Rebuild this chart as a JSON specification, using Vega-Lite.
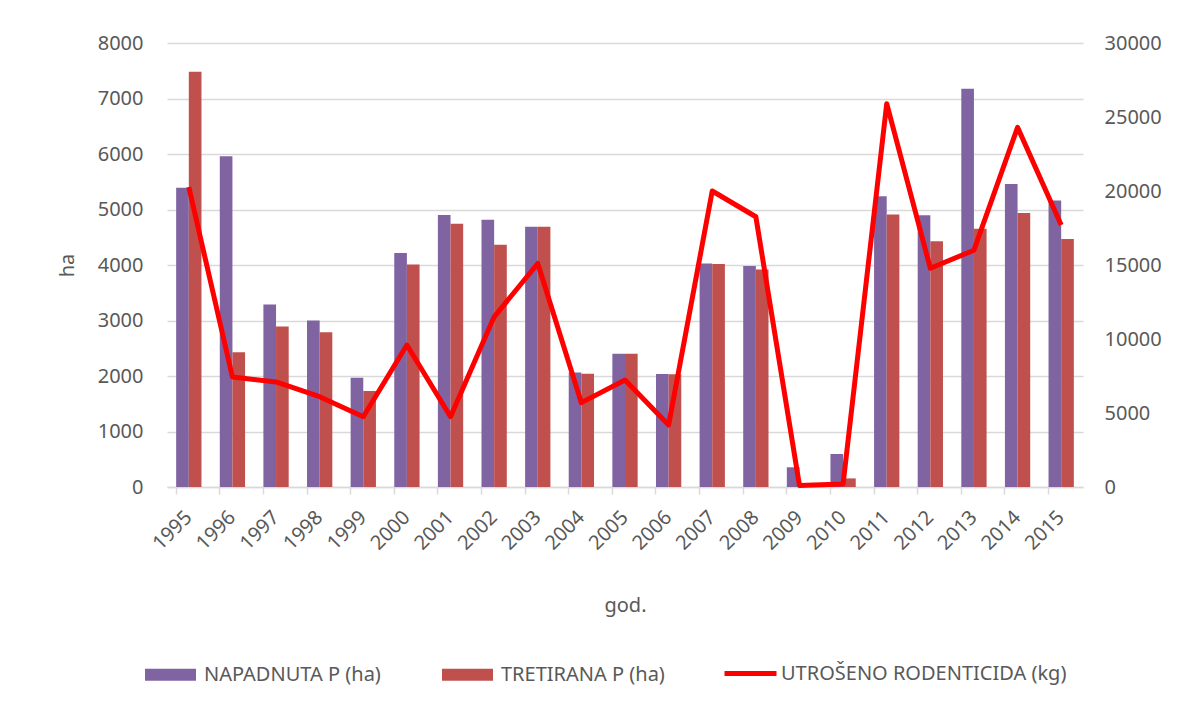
{
  "$schema": "https://vega.github.io/schema/vega-lite/v6.json",
  "width": 916,
  "height": 444,
  "autosize": {"type": "none"},
  "padding": {"left": 167, "top": 43, "right": 102, "bottom": 217},
  "background": "white",
  "config": {
    "font": "Noto Sans",
    "view": {"stroke": null},
    "axis": {
      "labelFont": "Noto Sans",
      "labelFontSize": 20,
      "labelColor": "#595959",
      "titleFont": "Noto Sans",
      "titleFontSize": 20,
      "titleColor": "#595959",
      "titleFontWeight": "normal",
      "gridColor": "#d9d9d9",
      "gridWidth": 1.5,
      "domainColor": "#d9d9d9",
      "tickColor": "#d9d9d9"
    },
    "legend": {
      "labelFont": "Noto Sans",
      "labelFontSize": 20,
      "labelColor": "#595959",
      "padding": 0,
      "labelLimit": 500
    }
  },
  "datasets": {
    "bars": [
      {"god": 1995, "serija": "NAPADNUTA P (ha)", "ha": 5390},
      {"god": 1995, "serija": "TRETIRANA P (ha)", "ha": 7480},
      {"god": 1996, "serija": "NAPADNUTA P (ha)", "ha": 5960},
      {"god": 1996, "serija": "TRETIRANA P (ha)", "ha": 2430},
      {"god": 1997, "serija": "NAPADNUTA P (ha)", "ha": 3290},
      {"god": 1997, "serija": "TRETIRANA P (ha)", "ha": 2890},
      {"god": 1998, "serija": "NAPADNUTA P (ha)", "ha": 3000},
      {"god": 1998, "serija": "TRETIRANA P (ha)", "ha": 2790},
      {"god": 1999, "serija": "NAPADNUTA P (ha)", "ha": 1970},
      {"god": 1999, "serija": "TRETIRANA P (ha)", "ha": 1730},
      {"god": 2000, "serija": "NAPADNUTA P (ha)", "ha": 4215},
      {"god": 2000, "serija": "TRETIRANA P (ha)", "ha": 4010},
      {"god": 2001, "serija": "NAPADNUTA P (ha)", "ha": 4900},
      {"god": 2001, "serija": "TRETIRANA P (ha)", "ha": 4745},
      {"god": 2002, "serija": "NAPADNUTA P (ha)", "ha": 4815},
      {"god": 2002, "serija": "TRETIRANA P (ha)", "ha": 4365},
      {"god": 2003, "serija": "NAPADNUTA P (ha)", "ha": 4690},
      {"god": 2003, "serija": "TRETIRANA P (ha)", "ha": 4690},
      {"god": 2004, "serija": "NAPADNUTA P (ha)", "ha": 2065},
      {"god": 2004, "serija": "TRETIRANA P (ha)", "ha": 2040},
      {"god": 2005, "serija": "NAPADNUTA P (ha)", "ha": 2400},
      {"god": 2005, "serija": "TRETIRANA P (ha)", "ha": 2400},
      {"god": 2006, "serija": "NAPADNUTA P (ha)", "ha": 2035},
      {"god": 2006, "serija": "TRETIRANA P (ha)", "ha": 2030},
      {"god": 2007, "serija": "NAPADNUTA P (ha)", "ha": 4025},
      {"god": 2007, "serija": "TRETIRANA P (ha)", "ha": 4020},
      {"god": 2008, "serija": "NAPADNUTA P (ha)", "ha": 3980},
      {"god": 2008, "serija": "TRETIRANA P (ha)", "ha": 3920},
      {"god": 2009, "serija": "NAPADNUTA P (ha)", "ha": 355},
      {"god": 2009, "serija": "TRETIRANA P (ha)", "ha": 0},
      {"god": 2010, "serija": "NAPADNUTA P (ha)", "ha": 595},
      {"god": 2010, "serija": "TRETIRANA P (ha)", "ha": 155},
      {"god": 2011, "serija": "NAPADNUTA P (ha)", "ha": 5240},
      {"god": 2011, "serija": "TRETIRANA P (ha)", "ha": 4910},
      {"god": 2012, "serija": "NAPADNUTA P (ha)", "ha": 4895},
      {"god": 2012, "serija": "TRETIRANA P (ha)", "ha": 4430},
      {"god": 2013, "serija": "NAPADNUTA P (ha)", "ha": 7175},
      {"god": 2013, "serija": "TRETIRANA P (ha)", "ha": 4655},
      {"god": 2014, "serija": "NAPADNUTA P (ha)", "ha": 5460},
      {"god": 2014, "serija": "TRETIRANA P (ha)", "ha": 4935},
      {"god": 2015, "serija": "NAPADNUTA P (ha)", "ha": 5160},
      {"god": 2015, "serija": "TRETIRANA P (ha)", "ha": 4470}
    ],
    "line": [
      {"god": 1995, "kg": 20270},
      {"god": 1996, "kg": 7430},
      {"god": 1997, "kg": 7100},
      {"god": 1998, "kg": 6100},
      {"god": 1999, "kg": 4750},
      {"god": 2000, "kg": 9590},
      {"god": 2001, "kg": 4750},
      {"god": 2002, "kg": 11500},
      {"god": 2003, "kg": 15100},
      {"god": 2004, "kg": 5700},
      {"god": 2005, "kg": 7230},
      {"god": 2006, "kg": 4190},
      {"god": 2007, "kg": 20000},
      {"god": 2008, "kg": 18260},
      {"god": 2009, "kg": 100},
      {"god": 2010, "kg": 200},
      {"god": 2011, "kg": 25900},
      {"god": 2012, "kg": 14780},
      {"god": 2013, "kg": 16000},
      {"god": 2014, "kg": 24300},
      {"god": 2015, "kg": 17700}
    ]
  },
  "encoding": {
    "x": {
      "field": "god",
      "type": "ordinal",
      "scale": {"paddingInner": 0.42, "paddingOuter": 0.21},
      "axis": {
        "title": "god.",
        "labelAngle": -45,
        "labelAlign": "right",
        "labelBaseline": "middle",
        "bandPosition": 0,
        "tickSize": 7,
        "tickWidth": 1.5,
        "domainWidth": 1.5,
        "grid": false,
        "labelPadding": 20,
        "titlePadding": 42
      }
    }
  },
  "layer": [
    {
      "data": {"name": "bars"},
      "mark": {"type": "bar"},
      "encoding": {
        "xOffset": {"field": "serija", "sort": ["NAPADNUTA P (ha)", "TRETIRANA P (ha)"]},
        "y": {
          "field": "ha",
          "type": "quantitative",
          "scale": {"domain": [0, 8000]},
          "axis": {
            "title": "ha",
            "format": "d",
            "values": [0, 1000, 2000, 3000, 4000, 5000, 6000, 7000, 8000],
            "domain": false,
            "ticks": false,
            "labelPadding": 24,
            "titlePadding": 20
          }
        },
        "fill": {
          "field": "serija",
          "type": "nominal",
          "scale": {"domain": ["NAPADNUTA P (ha)", "TRETIRANA P (ha)"], "range": ["#8064A2", "#C0504D"]},
          "legend": {
            "orient": "none",
            "legendX": -22,
            "legendY": 606,
            "direction": "horizontal",
            "title": null,
            "symbolType": "M-1,-0.235H1V0.235H-1Z",
            "symbolSize": 2601,
            "symbolStrokeWidth": 0,
            "labelOffset": 8,
            "columnPadding": 61
          }
        }
      }
    },
    {
      "data": {"name": "line"},
      "mark": {"type": "line", "strokeWidth": 5, "strokeJoin": "round"},
      "encoding": {
        "y": {
          "field": "kg",
          "type": "quantitative",
          "scale": {"domain": [0, 30000]},
          "axis": {
            "orient": "right",
            "title": null,
            "format": "d",
            "grid": false,
            "domain": false,
            "ticks": false,
            "values": [0, 5000, 10000, 15000, 20000, 25000, 30000],
            "labelPadding": 21
          }
        },
        "stroke": {
          "datum": "UTROŠENO RODENTICIDA (kg)",
          "type": "nominal",
          "scale": {"domain": ["UTROŠENO RODENTICIDA (kg)"], "range": ["#FF0000"]},
          "legend": {
            "orient": "none",
            "legendX": 555,
            "legendY": 602,
            "title": null,
            "symbolType": "stroke",
            "symbolSize": 2704,
            "symbolStrokeWidth": 5,
            "labelOffset": 2
          }
        }
      }
    }
  ],
  "resolve": {"scale": {"y": "independent"}, "legend": {"fill": "independent", "stroke": "independent"}}
}
